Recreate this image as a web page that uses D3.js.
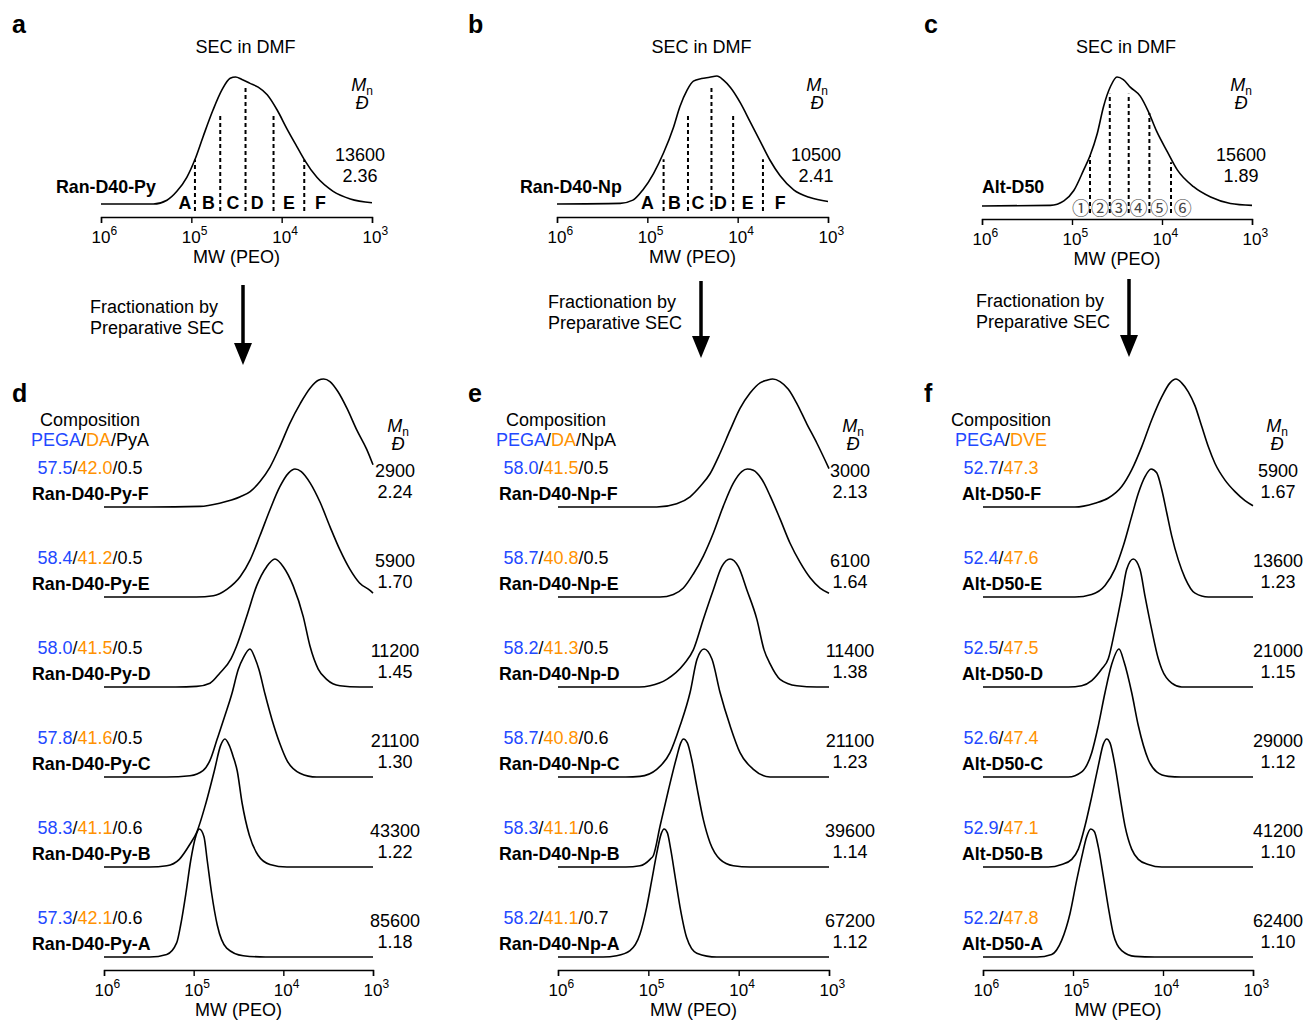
<!DOCTYPE html>
<html lang="en">
<head>
<meta charset="UTF-8" />
<title>SEC fractionation of random and alternating copolymers</title>
<script src="https://d3js.org/d3.v7.min.js"></script>
<style>
  body { margin: 0; background: #fff; }
  svg { font-family: 'Liberation Sans', Arial, sans-serif; }
  .curve { fill: none; stroke: #000; stroke-width: 1.6; }
  .cut { stroke: #000; stroke-width: 2; stroke-dasharray: 4,3; }
  .axis path, .axis line { stroke: #000; stroke-width: 1.4; }
  .lbl { font-size: 18px; }
  .tick-lbl { font-size: 17px; }
  .bold { font-size: 17.8px; font-weight: bold; }
  .panel { font-size: 25px; font-weight: bold; }
  .circ { font-family: 'Noto Sans CJK JP', 'DejaVu Sans', sans-serif; font-size: 18px; fill: #444; }
</style>
</head>
<body>
<svg id="fig" width="1306" height="1021"></svg>
<script>
// ---- data: x = log10 MW (PEO), y = normalised RI signal ----
const decades = [6, 5, 4, 3];

// top row: unfractionated samples
const secRanPy = [[6,0],[5.42,0],[5.27,0.03],[5.16,0.10],[5.05,0.21],[4.96,0.35],[4.87,0.53],[4.76,0.74],[4.66,0.90],[4.57,0.99],[4.51,1],[4.44,0.98],[4.35,0.95],[4.26,0.92],[4.16,0.86],[4.05,0.74],[3.94,0.59],[3.83,0.45],[3.75,0.35],[3.61,0.21],[3.43,0.10],[3.24,0.04],[3,0.01]];
const secRanNp = [[6,0],[5.30,0.005],[5.16,0.03],[5.05,0.11],[4.93,0.24],[4.82,0.40],[4.71,0.60],[4.64,0.76],[4.56,0.89],[4.49,0.96],[4.40,0.98],[4.31,0.99],[4.23,1],[4.16,0.97],[4.08,0.91],[3.97,0.79],[3.86,0.64],[3.75,0.49],[3.64,0.34],[3.53,0.22],[3.38,0.11],[3.20,0.05],[3,0.02]];
const secAlt = [[6,0],[5.24,0.005],[5.09,0.04],[4.98,0.12],[4.87,0.28],[4.80,0.39],[4.72,0.56],[4.65,0.77],[4.57,0.93],[4.50,1],[4.43,0.98],[4.35,0.92],[4.24,0.85],[4.15,0.73],[4.06,0.58],[3.94,0.42],[3.83,0.28],[3.65,0.15],[3.46,0.07],[3.24,0.02],[3,0.005]];

// fraction cut positions (log MW) and the height the dashed line reaches
const cutsRanPy = [4.96, 4.68, 4.40, 4.09, 3.75];
const cutTopRanPy = [0.35, 0.70, 0.92, 0.70, 0.35];
const cutsRanNp = [4.82, 4.55, 4.29, 4.05, 3.72];
const cutTopRanNp = [0.35, 0.70, 0.91, 0.70, 0.35];
const cutsAlt = [4.80, 4.58, 4.37, 4.14, 3.90];
const cutTopAlt = [0.39, 0.87, 0.87, 0.72, 0.34];

const fracLetters = ["A", "B", "C", "D", "E", "F"];
const fracLblRanPy = [5.07, 4.81, 4.54, 4.27, 3.92, 3.57];
const fracLblRanNp = [5.00, 4.70, 4.44, 4.19, 3.89, 3.53];
const circled = ["\u2460", "\u2461", "\u2462", "\u2463", "\u2464", "\u2465"];
const fracLblAlt = [4.90, 4.69, 4.48, 4.26, 4.03, 3.77];

// bottom row: fractions, listed top to bottom (F ... A)
const rowNames = ["F", "E", "D", "C", "B", "A"];

const fracRanPy = [
  [[6,0],[5.49,0],[4.93,0.005],[4.71,0.03],[4.48,0.08],[4.37,0.12],[4.26,0.20],[4.15,0.31],[4.04,0.47],[3.93,0.65],[3.81,0.81],[3.70,0.93],[3.61,0.99],[3.55,1],[3.48,0.98],[3.39,0.90],[3.29,0.77],[3.18,0.60],[3.07,0.45],[3,0.33]],
  [[6,0],[4.97,0],[4.78,0.01],[4.63,0.06],[4.48,0.16],[4.37,0.29],[4.26,0.48],[4.15,0.68],[4.04,0.86],[3.94,0.97],[3.87,1],[3.80,0.98],[3.70,0.89],[3.59,0.74],[3.48,0.55],[3.37,0.37],[3.26,0.22],[3.15,0.11],[3.03,0.05],[3,0.03]],
  [[6,0],[5.2,0],[4.967,0.005],[4.818,0.03],[4.707,0.11],[4.584,0.22],[4.521,0.32],[4.409,0.55],[4.298,0.79],[4.186,0.94],[4.094,1],[4.001,0.94],[3.890,0.79],[3.778,0.55],[3.703,0.32],[3.611,0.14],[3.517,0.06],[3.369,0.01],[3.146,0],[3,0]],
  [[6,0],[5.3,0],[5.041,0.01],[4.896,0.05],[4.818,0.13],[4.736,0.30],[4.651,0.48],[4.574,0.65],[4.503,0.84],[4.447,0.93],[4.372,1],[4.317,0.93],[4.272,0.84],[4.205,0.65],[4.127,0.45],[4.038,0.26],[3.96,0.13],[3.815,0.03],[3.629,0],[3,0]],
  [[6,0],[5.49,0],[5.30,0.01],[5.16,0.06],[5.04,0.18],[4.967,0.27],[4.863,0.5],[4.77,0.75],[4.699,0.95],[4.651,1],[4.603,0.95],[4.558,0.86],[4.514,0.75],[4.46,0.5],[4.38,0.25],[4.28,0.09],[4.15,0.02],[3.96,0],[3,0]],
  [[6,0],[5.49,0],[5.30,0.02],[5.19,0.11],[5.145,0.25],[5.086,0.5],[5.034,0.75],[4.978,0.94],[4.937,1],[4.885,0.94],[4.848,0.75],[4.80,0.5],[4.737,0.25],[4.632,0.07],[4.447,0.01],[4.2,0],[3,0]]
];
const fracRanNp = [
  [[6,0],[4.907,0],[4.686,0.026],[4.538,0.08],[4.427,0.16],[4.317,0.26],[4.206,0.42],[4.095,0.60],[3.985,0.77],[3.874,0.89],[3.763,0.97],[3.689,0.99],[3.623,1],[3.542,0.98],[3.45,0.92],[3.357,0.81],[3.246,0.65],[3.135,0.50],[3,0.30]],
  [[6,0],[4.87,0],[4.723,0.02],[4.612,0.07],[4.502,0.18],[4.391,0.32],[4.280,0.50],[4.170,0.71],[4.059,0.89],[3.966,0.98],[3.904,1],[3.838,0.99],[3.744,0.92],[3.652,0.79],[3.542,0.61],[3.431,0.42],[3.320,0.27],[3.209,0.15],[3.099,0.07],[3,0.03]],
  [[6,0],[5.1,0],[4.981,0.01],[4.796,0.06],[4.605,0.18],[4.502,0.29],[4.391,0.53],[4.280,0.76],[4.187,0.94],[4.095,1],[4.003,0.94],[3.910,0.76],[3.799,0.53],[3.719,0.29],[3.652,0.18],[3.542,0.06],[3.357,0.01],[3.135,0],[3,0]],
  [[6,0],[5.25,0],[5.092,0.005],[4.907,0.06],[4.760,0.19],[4.649,0.40],[4.538,0.66],[4.461,0.92],[4.383,1],[4.295,0.92],[4.206,0.66],[4.095,0.40],[3.985,0.19],[3.837,0.06],[3.652,0],[3,0]],
  [[6,0],[5.25,0],[5.092,0.01],[4.981,0.06],[4.944,0.09],[4.870,0.32],[4.778,0.60],[4.686,0.86],[4.641,0.97],[4.612,1],[4.568,0.97],[4.520,0.84],[4.464,0.63],[4.391,0.37],[4.317,0.19],[4.206,0.06],[4.059,0.01],[3.874,0],[3,0]],
  [[6,0],[5.5,0],[5.35,0.01],[5.203,0.05],[5.092,0.18],[5.018,0.39],[4.962,0.60],[4.907,0.81],[4.859,0.96],[4.826,1],[4.789,0.97],[4.752,0.84],[4.704,0.63],[4.649,0.39],[4.575,0.15],[4.464,0.03],[4.243,0],[3,0]]
];
const fracAlt = [
  [[6,0],[4.978,0],[4.756,0.03],[4.607,0.07],[4.459,0.16],[4.348,0.29],[4.237,0.47],[4.126,0.68],[4.014,0.86],[3.922,0.97],[3.856,1],[3.793,0.97],[3.719,0.90],[3.644,0.79],[3.570,0.63],[3.496,0.47],[3.422,0.34],[3.311,0.21],[3.2,0.12],[3.089,0.05],[3,0.01]],
  [[6,0],[4.978,0],[4.793,0.02],[4.644,0.09],[4.533,0.22],[4.441,0.40],[4.348,0.63],[4.274,0.81],[4.2,0.94],[4.133,1],[4.070,0.97],[4.014,0.84],[3.959,0.66],[3.904,0.48],[3.830,0.29],[3.756,0.15],[3.644,0.03],[3.496,0],[3,0]],
  [[6,0],[5.05,0],[4.903,0.01],[4.792,0.05],[4.681,0.14],[4.608,0.22],[4.533,0.45],[4.459,0.71],[4.403,0.92],[4.330,1],[4.256,0.92],[4.2,0.71],[4.126,0.45],[4.052,0.22],[4.014,0.14],[3.903,0.03],[3.792,0],[3,0]],
  [[6,0],[5.052,0],[4.903,0.04],[4.792,0.19],[4.719,0.40],[4.644,0.66],[4.570,0.88],[4.489,1],[4.433,0.90],[4.348,0.66],[4.274,0.40],[4.163,0.135],[4.070,0.04],[3.941,0.005],[3.8,0],[3,0]],
  [[6,0],[5.274,0],[5.126,0.02],[5.014,0.06],[4.941,0.14],[4.867,0.32],[4.792,0.55],[4.719,0.79],[4.663,0.96],[4.626,1],[4.589,0.97],[4.533,0.79],[4.478,0.55],[4.422,0.32],[4.348,0.14],[4.274,0.06],[4.163,0.02],[4.014,0],[3,0]],
  [[6,0],[5.4,0],[5.237,0.02],[5.126,0.13],[5.033,0.34],[4.959,0.60],[4.903,0.78],[4.848,0.94],[4.803,1],[4.763,0.98],[4.719,0.86],[4.663,0.63],[4.608,0.39],[4.552,0.18],[4.459,0.05],[4.311,0.005],[4.089,0],[3,0]]
];

// compositions (mol%) and SEC results, rows F ... A
const pegaPy = ["57.5", "58.4", "58.0", "57.8", "58.3", "57.3"];
const daPy   = ["42.0", "41.2", "41.5", "41.6", "41.1", "42.1"];
const pyaPy  = ["0.5", "0.5", "0.5", "0.5", "0.6", "0.6"];
const mnPy   = ["2900", "5900", "11200", "21100", "43300", "85600"];
const dispPy = ["2.24", "1.70", "1.45", "1.30", "1.22", "1.18"];

const pegaNp = ["58.0", "58.7", "58.2", "58.7", "58.3", "58.2"];
const daNp   = ["41.5", "40.8", "41.3", "40.8", "41.1", "41.1"];
const npaNp  = ["0.5", "0.5", "0.5", "0.6", "0.6", "0.7"];
const mnNp   = ["3000", "6100", "11400", "21100", "39600", "67200"];
const dispNp = ["2.13", "1.64", "1.38", "1.23", "1.14", "1.12"];

const pegaAlt = ["52.7", "52.4", "52.5", "52.6", "52.9", "52.2"];
const dveAlt  = ["47.3", "47.6", "47.5", "47.4", "47.1", "47.8"];
const mnAlt   = ["5900", "13600", "21000", "29000", "41200", "62400"];
const dispAlt = ["1.67", "1.23", "1.15", "1.12", "1.10", "1.10"];

const blue = "#2349ff", orange = "#ff9200";

// ---- drawing ----
const svg = d3.select("#fig");

function drawAxis(g, x, y, cx) {
  g.append("g").attr("class", "axis")
    .attr("transform", `translate(0,${y})`)
    .call(d3.axisBottom(x).tickValues(decades).tickSize(6).tickFormat(""));
  decades.forEach(d => {
    g.append("text").attr("class", "tick-lbl").attr("x", x(d)).attr("y", y + 26)
      .attr("text-anchor", "middle").text("10");
    g.append("text").attr("x", x(d) + 9.5).attr("y", y + 18)
      .attr("font-size", 12).text(d);
  });
  g.append("text").attr("class", "lbl").attr("x", cx).attr("y", y + 46)
    .attr("text-anchor", "middle").text("MW (PEO)");
}

function mnHeader(g, cx, y) {
  const t = g.append("text").attr("class", "lbl").attr("x", cx).attr("y", y)
    .attr("text-anchor", "middle");
  t.append("tspan").attr("font-style", "italic").text("M");
  t.append("tspan").attr("font-size", 12).attr("dy", 4).text("n");
  g.append("text").attr("class", "lbl").attr("x", cx).attr("y", y + 18)
    .attr("text-anchor", "middle").attr("font-style", "italic").text("\u0110");
}

// top panels a-c
const topPanels = [
  { letter: "a", lx: 12, x0: 101, x1: 372, base: 204, peak: 77, axisY: 217,
    curve: secRanPy, cuts: cutsRanPy, tops: cutTopRanPy, marks: fracLetters, markPos: fracLblRanPy,
    name: "Ran-D40-Py", nameX: 56, mn: "13600", dsp: "2.36", mnX: 362, valX: 360,
    fracX: 90, fracY: 313, arrowX: 243, arrowY0: 285, arrowY1: 365 },
  { letter: "b", lx: 468, x0: 557, x1: 828, base: 204, peak: 76, axisY: 217,
    curve: secRanNp, cuts: cutsRanNp, tops: cutTopRanNp, marks: fracLetters, markPos: fracLblRanNp,
    name: "Ran-D40-Np", nameX: 520, mn: "10500", dsp: "2.41", mnX: 817, valX: 816,
    fracX: 548, fracY: 308, arrowX: 701, arrowY0: 281, arrowY1: 358 },
  { letter: "c", lx: 924, x0: 982, x1: 1252, base: 206, peak: 77, axisY: 219,
    curve: secAlt, cuts: cutsAlt, tops: cutTopAlt, marks: circled, markPos: fracLblAlt,
    name: "Alt-D50", nameX: 982, mn: "15600", dsp: "1.89", mnX: 1241, valX: 1241,
    fracX: 976, fracY: 307, arrowX: 1129, arrowY0: 279, arrowY1: 357 }
];

topPanels.forEach(p => {
  const g = svg.append("g");
  const x = d3.scaleLinear().domain([6, 3]).range([p.x0, p.x1]);
  const y = d3.scaleLinear().domain([0, 1]).range([p.base, p.peak]);
  const cx = (p.x0 + p.x1) / 2;

  g.append("text").attr("class", "panel").attr("x", p.lx).attr("y", 33).text(p.letter);
  g.append("text").attr("class", "lbl").attr("x", cx + 9).attr("y", 53)
    .attr("text-anchor", "middle").text("SEC in DMF");

  g.selectAll(".cut").data(p.cuts).join("line").attr("class", "cut")
    .attr("x1", d => x(d)).attr("x2", d => x(d))
    .attr("y1", p.base + 7).attr("y2", (d, i) => y(p.tops[i]));

  g.append("path").datum(p.curve).attr("class", "curve")
    .attr("d", d3.line().x(d => x(d[0])).y(d => y(d[1])).curve(d3.curveMonotoneX));

  const circ = p.marks === circled;
  g.selectAll(".mark").data(p.marks).join("text")
    .attr("class", circ ? "circ" : "bold")
    .attr("x", (d, i) => x(p.markPos[i])).attr("y", circ ? 215 : 209)
    .attr("text-anchor", "middle")
    .text(d => d);

  g.append("text").attr("class", "bold").attr("x", p.nameX).attr("y", 193).text(p.name);
  mnHeader(g, p.mnX, 91);
  g.append("text").attr("class", "lbl").attr("x", p.valX).attr("y", 161)
    .attr("text-anchor", "middle").text(p.mn);
  g.append("text").attr("class", "lbl").attr("x", p.valX).attr("y", 182)
    .attr("text-anchor", "middle").text(p.dsp);

  drawAxis(g, x, p.axisY, cx);

  // fractionation arrow
  g.append("text").attr("class", "lbl").attr("x", p.fracX).attr("y", p.fracY).text("Fractionation by");
  g.append("text").attr("class", "lbl").attr("x", p.fracX).attr("y", p.fracY + 21).text("Preparative SEC");
  g.append("line").attr("x1", p.arrowX).attr("x2", p.arrowX)
    .attr("y1", p.arrowY0).attr("y2", p.arrowY1 - 18)
    .attr("stroke", "#000").attr("stroke-width", 3.5);
  g.append("path").attr("fill", "#000")
    .attr("d", `M${p.arrowX - 9},${p.arrowY1 - 22}L${p.arrowX + 9},${p.arrowY1 - 22}L${p.arrowX},${p.arrowY1}Z`);
});

// bottom panels d-f
const fracPanels = [
  { letter: "d", lx: 12, x0: 104, x1: 373, curves: fracRanPy, prefix: "Ran-D40-Py-",
    head: [["PEGA", blue], ["/", "#000"], ["DA", orange], ["/PyA", "#000"]],
    cols: [pegaPy, daPy, pyaPy], mn: mnPy, dsp: dispPy,
    compX: 90, nameX: 32, mnX: 398, valX: 395 },
  { letter: "e", lx: 468, x0: 558, x1: 829, curves: fracRanNp, prefix: "Ran-D40-Np-",
    head: [["PEGA", blue], ["/", "#000"], ["DA", orange], ["/NpA", "#000"]],
    cols: [pegaNp, daNp, npaNp], mn: mnNp, dsp: dispNp,
    compX: 556, nameX: 499, mnX: 853, valX: 850 },
  { letter: "f", lx: 924, x0: 983, x1: 1253, curves: fracAlt, prefix: "Alt-D50-",
    head: [["PEGA", blue], ["/", "#000"], ["DVE", orange]],
    cols: [pegaAlt, dveAlt], mn: mnAlt, dsp: dispAlt,
    compX: 1001, nameX: 962, mnX: 1277, valX: 1278 }
];

const rowBase0 = 507, rowStep = 90, rowHeight = 128;

fracPanels.forEach(p => {
  const g = svg.append("g");
  const x = d3.scaleLinear().domain([6, 3]).range([p.x0, p.x1]);

  g.append("text").attr("class", "panel").attr("x", p.lx).attr("y", 402).text(p.letter);
  g.append("text").attr("class", "lbl").attr("x", p.compX).attr("y", 426)
    .attr("text-anchor", "middle").text("Composition");
  const h = g.append("text").attr("class", "lbl").attr("x", p.compX).attr("y", 446)
    .attr("text-anchor", "middle");
  p.head.forEach(s => h.append("tspan").attr("fill", s[1]).text(s[0]));
  mnHeader(g, p.mnX, 432);

  rowNames.forEach((r, i) => {
    const base = rowBase0 + i * rowStep;
    const y = d3.scaleLinear().domain([0, 1]).range([base, base - rowHeight]);

    g.append("path").datum(p.curves[i]).attr("class", "curve")
      .attr("d", d3.line().x(d => x(d[0])).y(d => y(d[1])).curve(d3.curveMonotoneX));

    const t = g.append("text").attr("class", "lbl").attr("x", p.compX).attr("y", base - 33)
      .attr("text-anchor", "middle");
    const colours = [blue, orange, "#000"];
    p.cols.forEach((c, k) => {
      if (k > 0) t.append("tspan").attr("fill", "#000").text("/");
      t.append("tspan").attr("fill", colours[k]).text(c[i]);
    });
    g.append("text").attr("class", "bold").attr("x", p.nameX).attr("y", base - 7)
      .text(p.prefix + r);
    g.append("text").attr("class", "lbl").attr("x", p.valX).attr("y", base - 30)
      .attr("text-anchor", "middle").text(p.mn[i]);
    g.append("text").attr("class", "lbl").attr("x", p.valX).attr("y", base - 9)
      .attr("text-anchor", "middle").text(p.dsp[i]);
  });

  drawAxis(g, x, 970, (p.x0 + p.x1) / 2);
});
</script>
</body>
</html>
